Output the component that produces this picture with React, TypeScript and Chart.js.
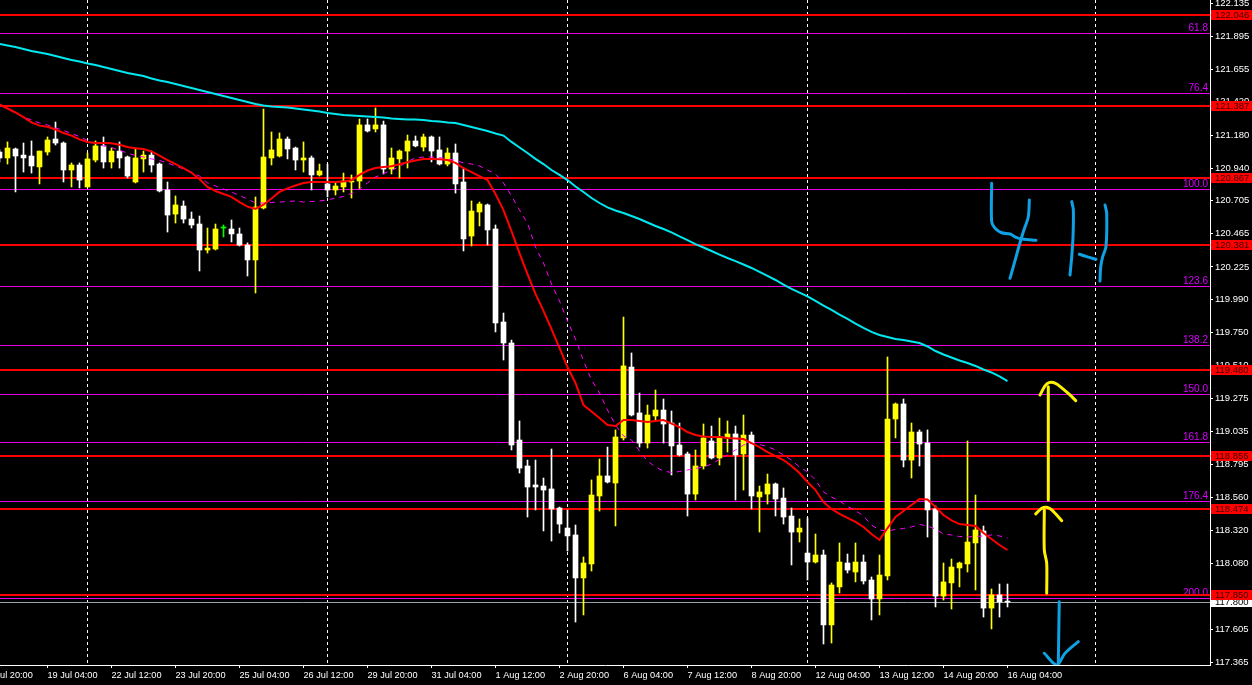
import React, { useEffect, useRef } from "react";
import { Chart, registerables } from "chart.js";

Chart.register(...registerables);

// ---- OHLC (4H bars, 18 Jul 04:00 .. 16 Aug 04:00) ----
const opens = [
  121.057, 121.014, 121.079, 121.035, 121.028, 120.949, 121.057, 121.151, 121.122, 120.927,
  120.963, 120.804, 120.999, 121.101, 120.985, 121.064, 121.021, 120.840, 121.007, 121.035,
  120.970, 120.782, 120.608, 120.666, 120.572, 120.536, 120.348, 120.355, 120.507, 120.500,
  120.464, 120.384, 120.276, 120.652, 121.014, 121.028, 121.151, 121.086, 120.999, 121.014,
  120.891, 120.826, 120.782, 120.804, 120.840, 120.847, 121.253, 121.224, 121.253, 120.934,
  121.007, 121.064, 121.137, 121.093, 121.166, 121.072, 120.970, 121.050, 120.840, 120.449,
  120.623, 120.674, 120.500, 119.827, 119.675, 118.973, 118.785, 118.648, 118.640, 118.619,
  118.481, 118.336, 118.286, 117.975, 118.076, 118.568, 118.713, 118.662, 118.988, 119.501,
  119.169, 118.951, 119.147, 119.190, 119.096, 118.937, 118.872, 118.582, 118.785, 118.966,
  118.843, 118.988, 119.017, 118.872, 119.009, 118.561, 118.582, 118.655, 118.553, 118.423,
  118.307, 118.155, 118.090, 118.141, 117.635, 117.910, 118.083, 118.018, 118.090, 117.960,
  117.823, 117.989, 119.125, 119.234, 118.828, 119.031, 118.951, 118.474, 117.844, 117.939,
  118.047, 118.076, 118.228, 118.315, 117.757, 117.852, 117.801,
];
const highs = [
  121.072, 121.130, 121.086, 121.122, 121.137, 121.064, 121.166, 121.274, 121.130, 120.978,
  120.978, 121.050, 121.137, 121.166, 121.086, 121.130, 121.028, 121.086, 121.064, 121.064,
  120.978, 120.840, 120.739, 120.703, 120.623, 120.594, 120.507, 120.536, 120.529, 120.565,
  120.507, 120.399, 120.732, 121.368, 121.202, 121.195, 121.166, 121.093, 121.130, 121.028,
  120.970, 120.970, 120.840, 120.905, 120.891, 121.296, 121.296, 121.376, 121.281, 121.086,
  121.072, 121.180, 121.173, 121.187, 121.173, 121.166, 121.086, 121.115, 120.941, 120.703,
  120.695, 120.681, 120.529, 119.892, 119.696, 119.111, 118.828, 118.828, 118.698, 118.908,
  118.488, 118.467, 118.358, 118.127, 118.684, 118.836, 118.922, 119.046, 119.863, 119.603,
  119.313, 119.226, 119.335, 119.270, 119.183, 119.096, 118.886, 118.901, 119.089, 119.074,
  119.132, 119.111, 119.074, 119.154, 119.031, 118.640, 118.727, 118.662, 118.626, 118.481,
  118.402, 118.409, 118.293, 118.177, 117.939, 118.228, 118.148, 118.228, 118.141, 117.982,
  118.141, 119.574, 119.241, 119.270, 119.096, 119.046, 119.046, 118.496, 118.083, 118.112,
  118.090, 118.966, 118.575, 118.351, 117.895, 117.931, 117.931,
];
const lows = [
  120.985, 120.970, 120.768, 120.912, 120.905, 120.826, 121.035, 121.108, 120.840, 120.804,
  120.797, 120.804, 120.985, 120.941, 120.941, 120.941, 120.869, 120.833, 120.912, 120.912,
  120.768, 120.478, 120.543, 120.543, 120.507, 120.196, 120.326, 120.348, 120.442, 120.406,
  120.377, 120.160, 120.037, 120.645, 120.963, 121.021, 121.007, 120.927, 120.912, 120.782,
  120.883, 120.732, 120.746, 120.768, 120.724, 120.789, 121.202, 121.202, 120.898, 120.898,
  120.869, 120.941, 121.094, 121.064, 120.985, 120.963, 120.956, 120.760, 120.341, 120.377,
  120.522, 120.384, 119.755, 119.552, 118.901, 118.734, 118.416, 118.467, 118.315, 118.242,
  118.300, 118.170, 117.656, 117.707, 118.025, 118.459, 118.662, 118.351, 118.973, 119.147,
  118.922, 118.915, 119.118, 118.951, 118.720, 118.857, 118.423, 118.539, 118.763, 118.836,
  118.792, 118.886, 118.539, 118.611, 118.474, 118.307, 118.510, 118.423, 118.365, 118.069,
  118.235, 117.960, 118.083, 117.497, 117.504, 117.866, 118.011, 117.946, 117.931, 117.671,
  117.707, 117.960, 118.988, 118.778, 118.698, 118.785, 118.271, 117.765, 117.815, 117.750,
  117.910, 118.018, 117.888, 117.692, 117.606, 117.692, 117.765,
];
const closes = [
  121.014, 121.086, 121.028, 121.014, 120.956, 121.064, 121.144, 121.122, 120.927, 120.963,
  120.854, 121.007, 121.101, 120.985, 121.064, 121.014, 120.883, 121.014, 121.035, 120.963,
  120.775, 120.601, 120.674, 120.572, 120.529, 120.348, 120.362, 120.500, 120.507, 120.464,
  120.384, 120.276, 120.659, 121.021, 121.072, 121.151, 121.079, 120.999, 121.014, 120.891,
  120.920, 120.782, 120.811, 120.847, 120.847, 121.253, 121.209, 121.253, 120.934, 121.014,
  121.064, 121.137, 121.101, 121.166, 121.064, 120.970, 121.050, 120.826, 120.428, 120.630,
  120.681, 120.493, 119.820, 119.675, 118.937, 118.770, 118.633, 118.633, 118.611, 118.474,
  118.365, 118.279, 117.975, 118.083, 118.575, 118.713, 118.669, 118.995, 119.509, 119.154,
  118.951, 119.154, 119.190, 119.089, 118.930, 118.865, 118.582, 118.785, 118.988, 118.843,
  118.995, 119.017, 118.865, 119.009, 118.568, 118.597, 118.655, 118.546, 118.416, 118.307,
  118.336, 118.090, 118.141, 117.635, 117.924, 118.090, 118.032, 118.090, 117.953, 117.823,
  117.996, 119.125, 119.234, 118.828, 119.031, 118.944, 118.467, 117.844, 117.946, 118.054,
  118.083, 118.235, 118.322, 117.757, 117.852, 117.801, 117.800,
];

// ---- Moving averages ----
const maRed = [
  121.401, 121.372, 121.343, 121.310, 121.271, 121.248, 121.240, 121.220, 121.195, 121.176,
  121.148, 121.130, 121.122, 121.122, 121.121, 121.109, 121.093, 121.085, 121.079, 121.061,
  121.031, 120.999, 120.970, 120.941, 120.907, 120.862, 120.804, 120.775, 120.753, 120.732,
  120.695, 120.662, 120.646, 120.676, 120.721, 120.768, 120.794, 120.815, 120.833, 120.840,
  120.840, 120.840, 120.840, 120.844, 120.852, 120.891, 120.923, 120.941, 120.949, 120.954,
  120.969, 120.983, 120.995, 121.007, 121.007, 121.005, 120.999, 120.978, 120.941, 120.912,
  120.883, 120.854, 120.753, 120.637, 120.485, 120.326, 120.174, 120.030, 119.907, 119.776,
  119.639, 119.501, 119.386, 119.226, 119.179, 119.132, 119.082, 119.074, 119.118, 119.118,
  119.111, 119.104, 119.111, 119.118, 119.092, 119.067, 119.031, 119.009, 118.998, 118.995,
  118.995, 118.988, 118.984, 118.980, 118.951, 118.922, 118.886, 118.857, 118.828, 118.785,
  118.734, 118.669, 118.611, 118.524, 118.474, 118.438, 118.409, 118.380, 118.344, 118.293,
  118.250, 118.336, 118.416, 118.459, 118.503, 118.546, 118.543, 118.488, 118.430, 118.391,
  118.365, 118.358, 118.351, 118.300, 118.257, 118.213, 118.177,
];
const maMagenta = [
  121.397, 121.368, 121.339, 121.310, 121.289, 121.267, 121.253, 121.231, 121.213, 121.191,
  121.169, 121.140, 121.119, 121.101, 121.090, 121.068, 121.050, 121.032, 121.021, 121.007,
  120.996, 120.978, 120.956, 120.934, 120.912, 120.883, 120.833, 120.811, 120.789, 120.768,
  120.742, 120.717, 120.688, 120.688, 120.692, 120.695, 120.699, 120.703, 120.695, 120.699,
  120.703, 120.710, 120.724, 120.735, 120.757, 120.789, 120.833, 120.876, 120.902, 120.923,
  120.952, 120.988, 121.014, 121.021, 121.021, 121.017, 121.007, 120.996, 120.978, 120.970,
  120.956, 120.927, 120.898, 120.833, 120.739, 120.637, 120.543, 120.370, 120.254, 120.102,
  119.979, 119.834, 119.704, 119.545, 119.407, 119.313, 119.190, 119.082, 119.002, 118.973,
  118.894, 118.821, 118.778, 118.749, 118.738, 118.745, 118.756, 118.767, 118.778, 118.799,
  118.832, 118.865, 118.901, 118.937, 118.948, 118.941, 118.926, 118.901, 118.865, 118.828,
  118.778, 118.742, 118.684, 118.597, 118.561, 118.532, 118.492, 118.463, 118.423, 118.358,
  118.322, 118.315, 118.326, 118.333, 118.344, 118.362, 118.351, 118.329, 118.293, 118.286,
  118.275, 118.271, 118.275, 118.279, 118.286, 118.279, 118.264,
];
const maCyan = [
  121.839, 121.828, 121.817, 121.802, 121.788, 121.777, 121.766, 121.752, 121.737, 121.723,
  121.712, 121.698, 121.687, 121.672, 121.658, 121.643, 121.629, 121.618, 121.607, 121.589,
  121.575, 121.564, 121.549, 121.535, 121.520, 121.506, 121.491, 121.477, 121.462, 121.448,
  121.433, 121.419, 121.404, 121.394, 121.386, 121.383, 121.379, 121.372, 121.365, 121.357,
  121.350, 121.339, 121.332, 121.325, 121.321, 121.318, 121.314, 121.310, 121.307, 121.300,
  121.296, 121.292, 121.292, 121.289, 121.281, 121.278, 121.271, 121.267, 121.253, 121.238,
  121.224, 121.209, 121.191, 121.176, 121.130, 121.090, 121.050, 121.007, 120.970, 120.927,
  120.891, 120.854, 120.807, 120.768, 120.724, 120.688, 120.656, 120.634, 120.616, 120.594,
  120.572, 120.547, 120.522, 120.500, 120.475, 120.446, 120.420, 120.391, 120.366, 120.341,
  120.315, 120.290, 120.268, 120.243, 120.218, 120.189, 120.160, 120.131, 120.098, 120.066,
  120.040, 120.012, 119.979, 119.946, 119.914, 119.881, 119.849, 119.816, 119.784, 119.755,
  119.733, 119.718, 119.704, 119.697, 119.686, 119.675, 119.650, 119.617, 119.592, 119.570,
  119.548, 119.530, 119.509, 119.483, 119.462, 119.433, 119.400,
];

// ---- Axes ----
const yTickValues = [
  122.135, 121.895, 121.655, 121.42, 121.18, 120.94, 120.705, 120.465, 120.225, 119.99,
  119.75, 119.51, 119.275, 119.035, 118.795, 118.56, 118.32, 118.08, 117.84, 117.605, 117.365,
];
const xTickBars = [-1.1, 7, 15, 23, 31, 39, 47, 55, 63, 71, 79, 87, 95, 103, 111, 119, 127];
const xTickLabels = [
  "18 Jul 20:00", "19 Jul 04:00", "22 Jul 12:00", "23 Jul 20:00", "25 Jul 04:00", "26 Jul 12:00",
  "29 Jul 20:00", "31 Jul 04:00", "1 Aug 12:00", "2 Aug 20:00", "6 Aug 04:00", "7 Aug 12:00",
  "8 Aug 20:00", "12 Aug 04:00", "13 Aug 12:00", "14 Aug 20:00", "16 Aug 04:00",
];
const weekStartBars = [12, 42, 72, 102, 138];

// ---- Levels ----
const resistanceLevels = [122.046, 121.387, 120.867, 120.381, 119.48, 118.856, 118.474, 117.85];
const fibLabels = ["61.8", "76.4", "100.0", "123.6", "138.2", "150.0", "161.8", "176.4", "200.0"];
const fibLevels = [121.918, 121.484, 120.789, 120.087, 119.66, 119.306, 118.958, 118.531, 117.83];
const bidPrice = 117.8;

// ---- Hand-drawn annotations (bar index, price) ----
const drawFour1 = [[125.02, 120.831], [125.02, 120.553], [125.44, 120.505], [126.27, 120.473], [127.31, 120.464], [128.15, 120.437], [128.98, 120.425], [130.56, 120.418]];
const drawFour2 = [[129.73, 120.71], [129.6, 120.589], [128.98, 120.48], [128.48, 120.384], [127.73, 120.227], [127.31, 120.143]];
const drawHLeft = [[135.03, 120.698], [135.23, 120.638], [135.19, 120.445], [135.03, 120.3], [134.81, 120.167]];
const drawHMid = [[135.98, 120.317], [136.9, 120.3], [138.06, 120.281]];
const drawHRight = [[139.19, 120.674], [139.4, 120.614], [139.31, 120.372], [138.9, 120.3], [138.65, 120.227], [138.56, 120.124]];
const drawUpShaft = [[132.1, 119.359], [132.1, 118.539]];
const drawUpHead = [[131.06, 119.299], [131.69, 119.364], [132.19, 119.388], [132.94, 119.384], [133.85, 119.347], [134.81, 119.299], [135.53, 119.258]];
const drawLowHead = [[130.53, 118.438], [131.28, 118.479], [131.9, 118.486], [132.53, 118.467], [133.78, 118.389]];
const drawLowShaft = [[131.6, 118.467], [131.6, 118.177], [131.9, 118.081], [131.9, 117.864]];
const drawDownShaft = [[133.47, 117.803], [133.35, 117.357]];
const drawDownHead = [[131.6, 117.43], [133.15, 117.345], [134.19, 117.43], [135.85, 117.514]];

const BULL = "#ffff00";
const BEAR = "#ffffff";
const DOJI = "#00ff00";
const RED = "#ff0000";
const FIB = "#e600e6";
const FIB_TEXT = "#d800ff";
const FONT = '"Liberation Sans", Arial, sans-serif';

export default function App() {
  const ref = useRef<HTMLCanvasElement | null>(null);

  useEffect(() => {
    document.body.style.margin = "0";
    document.body.style.background = "#000";
    const canvas = ref.current;
    if (!canvas) return;

    const barIdx = opens.map((_, i) => i + 1);
    const colors = opens.map((o, i) => (closes[i] > o ? BULL : closes[i] < o ? BEAR : DOJI));

    const pts = (arr: number[][]) => arr.map(([x, y]) => ({ x, y }));
    const drawing = (arr: number[][], color: string) => ({
      type: "line",
      data: pts(arr),
      borderColor: color,
      borderWidth: 3,
      pointRadius: 0,
      tension: 0.3,
      borderCapStyle: "round",
      borderJoinStyle: "round",
      order: 0,
    });
    const BLUE = "#10a0e4";
    const YEL = "#fff200";

    const overlay = {
      id: "overlay",
      beforeDraw(chart: any) {
        const { ctx, width, height } = chart;
        ctx.save();
        ctx.fillStyle = "#000";
        ctx.fillRect(0, 0, width, height);
        ctx.restore();
      },
      beforeDatasetsDraw(chart: any) {
        const { ctx, chartArea: ca } = chart;
        const xs = chart.scales.x;
        const ys = chart.scales.y;
        ctx.save();
        ctx.strokeStyle = "#ffffff";
        ctx.lineWidth = 1;
        ctx.setLineDash([3, 3]);
        weekStartBars.forEach((b) => {
          const px = Math.floor(xs.getPixelForValue(b)) + 0.5;
          ctx.beginPath();
          ctx.moveTo(px, ca.top);
          ctx.lineTo(px, ca.bottom);
          ctx.stroke();
        });
        ctx.setLineDash([]);
        ctx.font = `10px ${FONT}`;
        ctx.textAlign = "right";
        ctx.textBaseline = "bottom";
        fibLevels.forEach((p, i) => {
          const py = Math.round(ys.getPixelForValue(p)) + 0.5;
          ctx.strokeStyle = FIB;
          ctx.lineWidth = 1;
          ctx.beginPath();
          ctx.moveTo(ca.left, py);
          ctx.lineTo(ca.right, py);
          ctx.stroke();
          ctx.fillStyle = FIB_TEXT;
          ctx.fillText(fibLabels[i], ca.right - 2, py - 0.5);
        });
        const by = Math.round(ys.getPixelForValue(bidPrice)) + 0.5;
        ctx.strokeStyle = "#9aa4ae";
        ctx.beginPath();
        ctx.moveTo(ca.left, by);
        ctx.lineTo(ca.right, by);
        ctx.stroke();
        ctx.strokeStyle = RED;
        ctx.lineWidth = 2;
        resistanceLevels.forEach((p) => {
          const py = Math.round(ys.getPixelForValue(p));
          ctx.beginPath();
          ctx.moveTo(ca.left, py);
          ctx.lineTo(ca.right, py);
          ctx.stroke();
        });
        ctx.restore();
      },
      afterDraw(chart: any) {
        const { ctx, chartArea: ca, width } = chart;
        const ys = chart.scales.y;
        ctx.save();
        ctx.font = `9.5px ${FONT}`;
        ctx.textAlign = "left";
        ctx.textBaseline = "middle";
        const by = Math.round(ys.getPixelForValue(bidPrice));
        ctx.fillStyle = "#ffffff";
        ctx.fillRect(ca.right + 1, by - 4, width - ca.right - 1, 9);
        ctx.fillStyle = "#000000";
        ctx.fillText(bidPrice.toFixed(3), ca.right + 5, by + 0.5);
        resistanceLevels.forEach((p) => {
          const py = Math.round(ys.getPixelForValue(p));
          ctx.fillStyle = RED;
          ctx.fillRect(ca.right + 1, py - 5, width - ca.right - 1, 10);
          ctx.fillStyle = "#3a0000";
          ctx.fillText(p.toFixed(3), ca.right + 5, py + 0.5);
        });
        ctx.restore();
      },
    };

    const chart = new Chart(canvas, {
      type: "bar",
      data: {
        datasets: [
          drawing(drawFour1, BLUE),
          drawing(drawFour2, BLUE),
          drawing(drawHLeft, BLUE),
          drawing(drawHMid, BLUE),
          drawing(drawHRight, BLUE),
          drawing(drawUpShaft, YEL),
          drawing(drawUpHead, YEL),
          drawing(drawLowHead, YEL),
          drawing(drawLowShaft, YEL),
          drawing(drawDownShaft, BLUE),
          drawing(drawDownHead, BLUE),
          {
            type: "line",
            data: barIdx.map((x, i) => ({ x, y: maCyan[i] })),
            borderColor: "#00e8f0",
            borderWidth: 2,
            pointRadius: 0,
            order: 1,
          },
          {
            type: "line",
            data: barIdx.map((x, i) => ({ x, y: maRed[i] })),
            borderColor: RED,
            borderWidth: 2,
            pointRadius: 0,
            order: 2,
          },
          {
            type: "line",
            data: barIdx.map((x, i) => ({ x, y: maMagenta[i] })),
            borderColor: "#ff00ff",
            borderWidth: 1,
            borderDash: [5, 5],
            pointRadius: 0,
            order: 3,
          },
          {
            type: "bar",
            data: barIdx.map((x, i) => ({ x, y: [opens[i], closes[i]] })),
            backgroundColor: colors,
            borderWidth: 0,
            barThickness: 5,
            minBarLength: 1,
            grouped: false,
            order: 4,
          },
          {
            type: "bar",
            data: barIdx.map((x, i) => ({ x, y: [lows[i], highs[i]] })),
            backgroundColor: colors,
            borderWidth: 0,
            barThickness: 1,
            minBarLength: 1,
            grouped: false,
            order: 5,
          },
        ] as any,
      },
      options: {
        animation: false,
        responsive: false,
        devicePixelRatio: 1,
        layout: { padding: 0 },
        plugins: { legend: { display: false }, tooltip: { enabled: false } },
        scales: {
          x: {
            type: "linear",
            position: "bottom",
            min: 1.0625,
            max: 152.3125,
            bounds: "data",
            offset: false,
            afterBuildTicks: (s: any) => {
              s.ticks = xTickBars.map((v) => ({ value: v }));
            },
            afterFit: (s: any) => {
              s.height = 20;
              s.paddingLeft = 0;
              s.paddingRight = 0;
            },
            ticks: {
              autoSkip: false,
              maxRotation: 0,
              minRotation: 0,
              align: "start",
              color: "#ffffff",
              padding: 2,
              font: { family: FONT, size: 9.2 },
              callback: (_v: any, i: number) => xTickLabels[i],
            },
            grid: {
              display: true,
              offset: false,
              drawOnChartArea: false,
              drawTicks: true,
              tickLength: 3,
              color: "#ffffff",
            },
            border: { display: true, color: "#ffffff", width: 1 },
          },
          y: {
            type: "linear",
            position: "right",
            min: 117.345,
            max: 122.157,
            bounds: "data",
            beginAtZero: false,
            afterBuildTicks: (s: any) => {
              s.ticks = yTickValues.map((v) => ({ value: v }));
            },
            afterFit: (s: any) => {
              s.width = 42;
              s.paddingTop = 0;
              s.paddingBottom = 0;
            },
            ticks: {
              color: "#ffffff",
              padding: 2,
              font: { family: FONT, size: 9.5 },
              callback: (v: any) => Number(v).toFixed(3),
            },
            grid: {
              display: true,
              drawOnChartArea: false,
              drawTicks: true,
              tickLength: 3,
              color: "#ffffff",
            },
            border: { display: true, color: "#ffffff", width: 1 },
          },
        },
      } as any,
      plugins: [overlay],
    });

    return () => chart.destroy();
  }, []);

  return <canvas ref={ref} width={1252} height={685} style={{ display: "block" }} />;
}
